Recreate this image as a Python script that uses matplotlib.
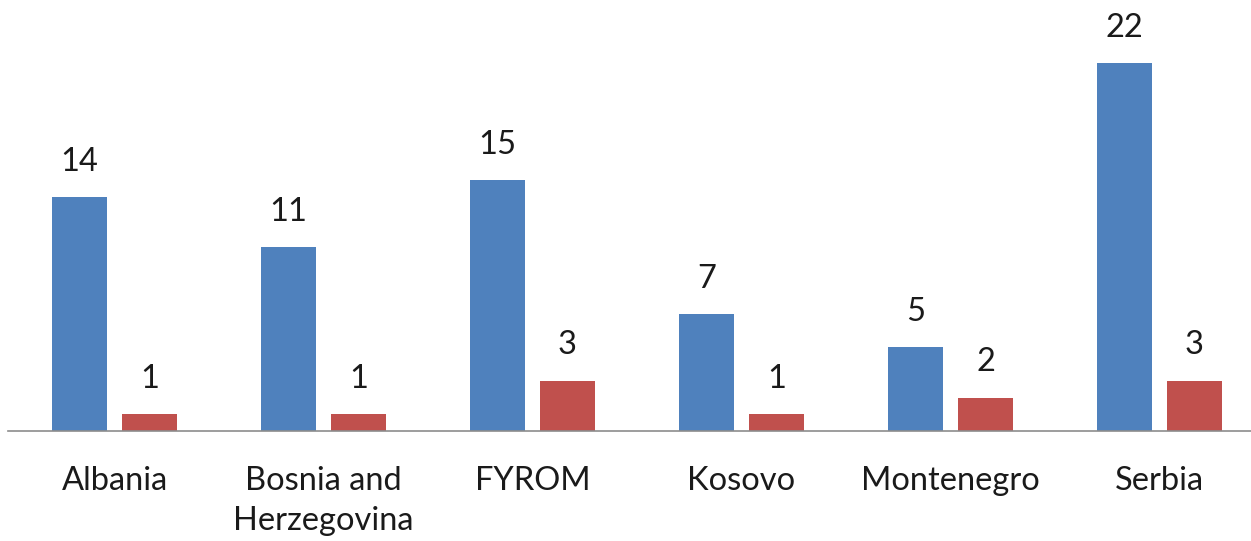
import matplotlib.pyplot as plt
import numpy as np

countries = ["Albania", "Bosnia and\nHerzegovina", "FYROM", "Kosovo", "Montenegro", "Serbia"]
blue_vals = [14, 11, 15, 7, 5, 22]
red_vals = [1, 1, 3, 1, 2, 3]

plt.rcParams['font.family'] = ['Lato', 'DejaVu Sans']

W, H = 1251, 541
fig = plt.figure(figsize=(W / 100, H / 100), dpi=100)
# axes placed in pixel terms: baseline at y=431 from top, spans x 8..1251
ax = fig.add_axes([8 / W, (H - 431) / H, 1243 / W, 431 / H])

x = np.arange(len(countries))
off = 35 / 209
bw = 55 / 209
b1 = ax.bar(x - off, blue_vals, bw, color="#4F81BD")
b2 = ax.bar(x + off, red_vals, bw, color="#C0504D")

for bars, vals in [(b1, blue_vals), (b2, red_vals)]:
    for b, v in zip(bars, vals):
        ax.annotate(str(v), (b.get_x() + b.get_width() / 2, v),
                    xytext=(0, 19), textcoords="offset points",
                    ha="center", va="baseline", fontsize=23.5, color="#1a1a1a")

ax.set_xlim(-0.51, 5.438)
ax.set_ylim(0, 431 / 16.72)
ax.set_xticks(x)
ax.set_xticklabels(countries, fontsize=23.5, color="#1a1a1a", linespacing=1.42)
ax.tick_params(axis="x", length=0, pad=25)
ax.set_yticks([])
for s in ["top", "right", "left"]:
    ax.spines[s].set_visible(False)
ax.spines["bottom"].set_color("#8c8c8c")
ax.spines["bottom"].set_linewidth(1.2)

fig.savefig("out.png", dpi=100)
